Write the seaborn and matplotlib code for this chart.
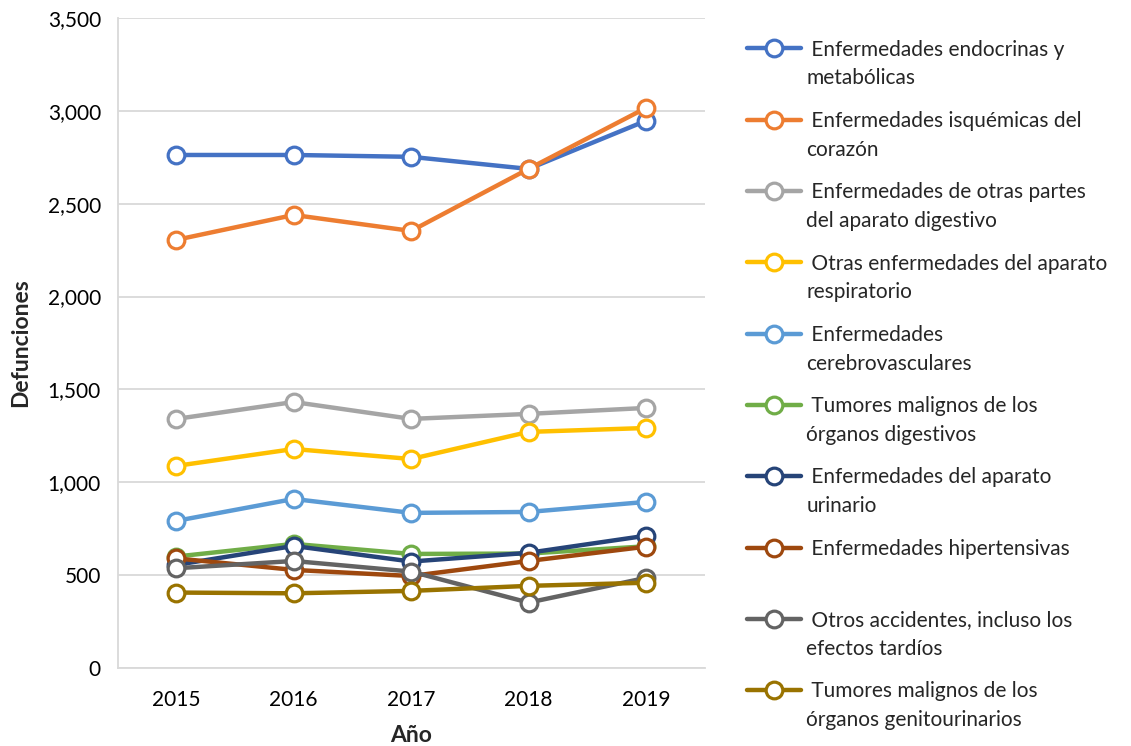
import pandas as pd
import numpy as np
import matplotlib
matplotlib.use("Agg")
import matplotlib.pyplot as plt
import matplotlib.ticker as mticker
from matplotlib.legend_handler import HandlerLine2D
import seaborn as sns

# datos
anios = ["2015", "2016", "2017", "2018", "2019"]

endocrinas = [2762, 2762, 2752, 2687, 2946]
isquemicas = [2305, 2439, 2353, 2687, 3015]
digestivo = [1341, 1432, 1341, 1368, 1400]
respiratorio = [1088, 1179, 1125, 1271, 1292]
cerebrovasc = [792, 910, 835, 840, 894]
tum_digestivos = [600, 668, 614, 616, 655]
urinario = [555, 657, 573, 620, 712]
hipertensivas = [590, 528, 495, 576, 653]
accidentes = [537, 576, 519, 352, 485]
tum_genito = [406, 402, 415, 442, 459]

etiquetas = [
    " Enfermedades endocrinas y\nmetabólicas",
    " Enfermedades isquémicas del\ncorazón",
    " Enfermedades de otras partes\ndel aparato digestivo",
    " Otras enfermedades del aparato\nrespiratorio",
    " Enfermedades\ncerebrovasculares",
    " Tumores malignos de los\nórganos digestivos",
    " Enfermedades del aparato\nurinario",
    " Enfermedades hipertensivas\n",
    " Otros accidentes, incluso los\nefectos tardíos",
    " Tumores malignos de los\nórganos genitourinarios",
]
series = [endocrinas, isquemicas, digestivo, respiratorio, cerebrovasc,
          tum_digestivos, urinario, hipertensivas, accidentes, tum_genito]
colores = ["#4472C4", "#ED7D31", "#A5A5A5", "#FFC000", "#5B9BD5",
           "#70AD47", "#264478", "#9E480E", "#636363", "#997300"]


# el simbolo de la leyenda va a la altura de la primera linea del texto
class HandlerArriba(HandlerLine2D):
    def create_artists(self, legend, orig_handle, xdescent, ydescent,
                       width, height, fontsize, trans):
        arts = super().create_artists(legend, orig_handle, xdescent, ydescent,
                                      width, height, fontsize, trans)
        for a in arts:
            a.set_ydata(np.asarray(a.get_ydata()) + 0.78 * fontsize)
        return arts


sns.set_theme(style="white")
plt.rcParams["font.family"] = ["Lato", "DejaVu Sans"]

fig = plt.figure(figsize=(11.31, 7.46), dpi=100)
ax = fig.add_axes([0.104, 0.1046, 0.519, 0.8714])

for vals, lab, c in zip(series, etiquetas, colores):
    df = pd.DataFrame({"Año": anios, "Defunciones": vals})
    sns.lineplot(data=df, x="Año", y="Defunciones", ax=ax, color=c,
                 linewidth=3.2, marker="o", markersize=12,
                 markerfacecolor="white", markeredgecolor=c,
                 markeredgewidth=2.3, label=lab, sort=False)

ax.set_xlim(-0.5, 4.5)
ax.set_ylim(0, 3500)
ax.yaxis.set_major_locator(mticker.MultipleLocator(500))
ax.yaxis.set_major_formatter(mticker.FuncFormatter(lambda v, p: f"{int(v):,}"))
ax.grid(axis="y", color="#D9D9D9", linewidth=1.3)
ax.set_axisbelow(True)
for s in ["top", "right"]:
    ax.spines[s].set_visible(False)
ax.spines["left"].set_color("#D9D9D9")
ax.spines["bottom"].set_color("#D9D9D9")
ax.spines["left"].set_linewidth(1.3)
ax.spines["bottom"].set_linewidth(1.3)
ax.tick_params(axis="x", labelsize=15, colors="black", length=0, pad=16)
ax.tick_params(axis="y", labelsize=15, colors="black", length=0, pad=12)

ax.set_xlabel("Año", fontsize=16.5, fontweight="bold", labelpad=11)
ax.set_ylabel("Defunciones", fontsize=16.5, fontweight="bold", labelpad=12)

h, l = ax.get_legend_handles_labels()
ax.get_legend().remove()
leg = fig.legend(h, l, loc="upper left", bbox_to_anchor=(0.644, 0.972),
                 frameon=False, fontsize=15, handlelength=2.6,
                 handletextpad=0.25, labelspacing=1.08,
                 handler_map={matplotlib.lines.Line2D: HandlerArriba()})
for t in leg.get_texts():
    t.set_linespacing(1.55)

fig.savefig("out.png", dpi=100)
